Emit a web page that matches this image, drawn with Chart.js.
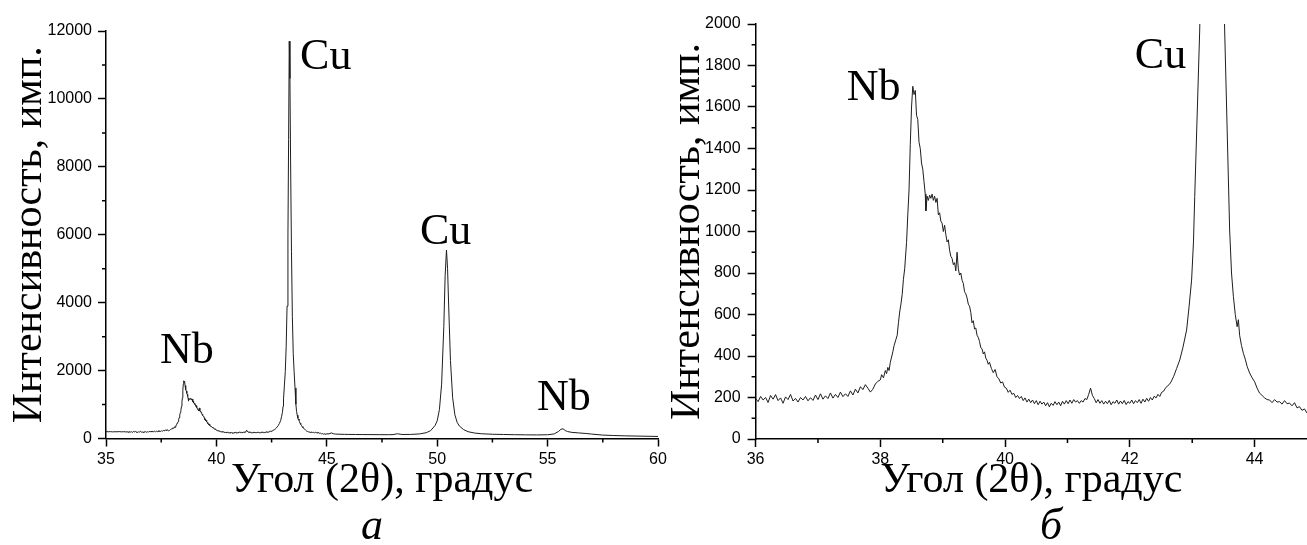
<!DOCTYPE html>
<html>
<head>
<meta charset="utf-8">
<script src="https://cdn.jsdelivr.net/npm/chart.js@4.4.1/dist/chart.umd.min.js"></script>
<style>
html, body { margin: 0; padding: 0; background: #fff; }
body { width: 1307px; height: 545px; position: relative; overflow: hidden; }
canvas { position: absolute; top: 0; }
#chartA { left: 0; }
#chartB { left: 660px; }
.tag { position: absolute; top: 503px; width: 60px; text-align: center;
       font-family: 'Liberation Serif', serif; font-style: italic; font-size: 44px; line-height: 1; }
#tagA { left: 342px; }
#tagB { left: 1021px; }
</style>
</head>
<body>
<canvas id="chartA" width="670" height="545"></canvas>
<canvas id="chartB" width="647" height="545"></canvas>
<div class="tag" id="tagA">а</div>
<div class="tag" id="tagB">б</div>
<script>
// XRD scan (angle in deg 2θ, counts)
const angA = [35.0, 35.1, 35.2, 35.3, 35.4, 35.5, 35.6, 35.7, 35.8, 35.9,
    36.00, 36.04, 36.08, 36.12, 36.16, 36.20, 36.24, 36.28, 36.32, 36.36,
    36.40, 36.44, 36.48, 36.52, 36.56, 36.60, 36.64, 36.68, 36.72, 36.76,
    36.80, 36.84, 36.88, 36.92, 36.96, 37.00, 37.04, 37.08, 37.12, 37.16,
    37.20, 37.24, 37.28, 37.32, 37.36, 37.40, 37.44, 37.48, 37.52, 37.56,
    37.60, 37.64, 37.68, 37.72, 37.76, 37.80, 37.84, 37.88, 37.92, 37.96];
const cntA = [205, 198, 202, 195, 200, 197, 203, 196, 201, 194,
    195, 180, 205, 188, 200, 176, 210, 192, 214, 185,
    198, 172, 203, 190, 215, 183, 196, 178, 200, 188,
    205, 184, 199, 186, 212, 190, 218, 192, 208, 195,
    222, 197, 215, 200, 226, 204, 218, 205, 232, 212,
    240, 222, 252, 238, 262, 245, 226, 240, 265, 278];

// Nb (110)
const angB = [38.00, 38.02, 38.05, 38.08, 38.10, 38.12, 38.14, 38.16, 38.18, 38.20,
    38.22, 38.25, 38.27, 38.29, 38.31, 38.33, 38.35, 38.37, 38.39, 38.42,
    38.44, 38.46, 38.48, 38.50, 38.52, 38.54, 38.56, 38.58, 38.60, 38.62,
    38.64, 38.66, 38.68, 38.70, 38.72, 38.73, 38.75, 38.77, 38.79, 38.81,
    38.83, 38.85, 38.87, 38.89, 38.91, 38.93, 38.95, 38.97, 38.99, 39.01,
    39.03, 39.05, 39.07, 39.09, 39.11, 39.13, 39.15, 39.17, 39.19, 39.21,
    39.23, 39.25, 39.27, 39.29, 39.31, 39.33, 39.35, 39.37, 39.39, 39.41,
    39.43, 39.45, 39.47, 39.49, 39.51, 39.53, 39.55, 39.57, 39.59, 39.61,
    39.63, 39.65, 39.67, 39.69, 39.71, 39.73, 39.75, 39.78, 39.81, 39.84,
    39.87, 39.90, 39.93, 39.96, 39.99];
const cntB = [285, 310, 295, 330, 315, 345, 330, 370, 395, 420,
    450, 480, 500, 560, 612, 650, 696, 770, 820, 947,
    1080, 1200, 1420, 1600, 1700, 1660, 1680, 1560, 1540, 1430,
    1400, 1330, 1300, 1240, 1180, 1100, 1170, 1150, 1175, 1160,
    1180, 1150, 1170, 1140, 1160, 1080, 1090, 1050, 1040, 1000,
    1030, 985, 950, 960, 910, 880, 870, 840, 850, 810,
    900, 820, 790, 800, 765, 750, 710, 700, 680, 650,
    640, 610, 560, 570, 530, 535, 500, 490, 470, 440,
    435, 410, 420, 390, 380, 360, 370, 340, 320, 335,
    300, 290, 270, 275, 250];

// valley between Nb and Cu
const angC = [40.02, 40.05, 40.08, 40.11, 40.14, 40.17, 40.20, 40.23, 40.26, 40.29,
    40.32, 40.35, 40.38, 40.41, 40.44, 40.47, 40.50, 40.53, 40.56, 40.59,
    40.62, 40.65, 40.68, 40.71, 40.74, 40.77, 40.80, 40.83, 40.86, 40.89,
    40.92, 40.95, 40.98, 41.01, 41.04, 41.07, 41.10, 41.13, 41.16, 41.19,
    41.22, 41.25, 41.28, 41.31, 41.34, 41.37, 41.40, 41.43, 41.46, 41.49,
    41.52, 41.55, 41.58, 41.61, 41.64, 41.67, 41.70, 41.73, 41.76, 41.79,
    41.82, 41.85, 41.88, 41.91, 41.94, 41.97, 42.00, 42.03, 42.06, 42.09,
    42.12, 42.15, 42.18, 42.21, 42.24, 42.27, 42.30, 42.33, 42.36, 42.39,
    42.42, 42.45, 42.48, 42.51, 42.54, 42.57, 42.60, 42.63, 42.66];
const cntC = [245, 225, 235, 215, 220, 200, 210, 195, 205, 185,
    198, 178, 192, 175, 188, 170, 185, 165, 182, 168,
    178, 160, 175, 155, 172, 162, 180, 165, 178, 160,
    182, 168, 185, 170, 188, 172, 190, 178, 185, 172,
    185, 178, 195, 190, 215, 245, 210, 195, 175, 190,
    172, 185, 168, 182, 170, 186, 165, 180, 172, 188,
    168, 183, 170, 186, 166, 180, 172, 188, 170, 185,
    175, 190, 172, 192, 178, 196, 182, 200, 188, 206,
    198, 215, 205, 225, 230, 245, 255, 262, 275];

// Cu (111)
const angD = [42.70, 42.75, 42.80, 42.85, 42.91, 42.95, 42.99, 43.02, 43.04, 43.08,
    43.12, 43.16, 43.20, 43.24, 43.27, 43.30, 43.33, 43.36, 43.40, 43.44,
    43.48, 43.52, 43.56, 43.60, 43.63, 43.66, 43.69, 43.72, 43.74, 43.76,
    43.79, 43.82, 43.85, 43.88, 43.92, 43.96, 44.00, 44.04, 44.08, 44.12,
    44.16, 44.20, 44.24, 44.28, 44.32, 44.36, 44.40, 44.44, 44.48, 44.52,
    44.56, 44.60, 44.64, 44.68, 44.72, 44.76, 44.80, 44.84, 44.88, 44.92,
    44.96];
const cntD = [300, 340, 381, 440, 525, 640, 766, 950, 1168, 1571,
    1971, 2700, 3900, 6000, 8800, 11700, 10600, 8200, 5500, 3600,
    2500, 1971, 1489, 1007, 800, 686, 600, 541, 575, 500,
    450, 413, 385, 350, 318, 295, 276, 245, 221, 210,
    198, 190, 188, 175, 190, 178, 180, 168, 185, 170,
    173, 160, 175, 150, 156, 138, 145, 125, 140, 130,
    125];

// Cu (200) and Nb (200)
const angE = [45.0, 45.1, 45.2, 45.3, 45.4, 45.6, 45.8, 46.0, 46.3, 46.6,
    47.0, 47.4, 47.8, 48.0, 48.2, 48.4, 48.8, 49.2, 49.5, 49.7,
    49.9, 50.0, 50.1, 50.2, 50.3, 50.36, 50.42, 50.47, 50.52, 50.6,
    50.7, 50.8, 50.9, 51.0, 51.2, 51.4, 51.7, 52.0, 52.5, 53.0,
    53.5, 54.0, 54.5, 55.0, 55.3, 55.5, 55.6, 55.7, 55.8, 55.9,
    56.1, 56.4, 56.7, 57.0, 57.5, 58.0, 58.5, 59.0, 59.5, 60.0];
const cntE = [140, 135, 165, 140, 130, 125, 122, 120, 118, 116,
    115, 113, 112, 115, 140, 118, 120, 135, 170, 230,
    380, 520, 850, 1600, 3300, 4800, 5550, 5000, 3900, 2300,
    1200, 700, 480, 370, 260, 200, 160, 140, 125, 118,
    112, 108, 105, 110, 135, 210, 270, 285, 235, 205,
    180, 165, 150, 130, 100, 88, 78, 72, 66, 60];

// ticks
const ticksAx = [35, 40, 45, 50, 55, 60];
const minorAx = [37.5, 42.5, 47.5, 52.5, 57.5];
const ticksAy = [0, 2000, 4000, 6000, 8000, 10000, 12000];
const minorAy = [1000, 3000, 5000, 7000, 9000, 11000];
const ticksBx = [36, 38, 40, 42, 44];
const minorBx = [37, 39, 41, 43];
const ticksBy = [0, 200, 400, 600, 800, 1000, 1200, 1400, 1600, 1800, 2000];
const minorBy = [100, 300, 500, 700, 900, 1100, 1300, 1500, 1700, 1900];

// peak names, placed in data units
const peaksA = [
    { text: 'Cu', x: 43.79, y: 10870 },
    { text: 'Nb', x: 37.45, y: 2212 },
    { text: 'Cu', x: 49.22, y: 5737 },
    { text: 'Nb', x: 54.52, y: 840 }
];
const peaksB = [
    { text: 'Nb', x: 37.46, y: 1634 },
    { text: 'Cu', x: 42.08, y: 1788 }
];

const angle = [].concat(angA, angB, angC, angD, angE);
const counts = [].concat(cntA, cntB, cntC, cntD, cntE);
const points = angle.map((a, i) => ({ x: a, y: counts[i] }));

// short minor ticks + peak labels
const extras = {
    id: 'extras',
    afterDraw(chart, args, opts) {
        const ctx = chart.ctx;
        const xs = chart.scales.x;
        const ys = chart.scales.y;
        ctx.save();
        ctx.strokeStyle = '#000';
        ctx.lineWidth = 1.5;
        ctx.beginPath();
        opts.minorX.forEach(v => {
            const p = xs.getPixelForValue(v);
            ctx.moveTo(p, xs.top);
            ctx.lineTo(p, xs.top + 4);
        });
        opts.minorY.forEach(v => {
            const p = ys.getPixelForValue(v);
            ctx.moveTo(ys.right, p);
            ctx.lineTo(ys.right - 4, p);
        });
        ctx.stroke();
        ctx.fillStyle = '#000';
        ctx.font = '44px "Liberation Serif", serif';
        ctx.textAlign = 'left';
        ctx.textBaseline = 'alphabetic';
        opts.peaks.forEach(pk => {
            ctx.fillText(pk.text, xs.getPixelForValue(pk.x), ys.getPixelForValue(pk.y));
        });
        ctx.restore();
    }
};

const tickFont = { family: 'Liberation Sans', size: 16 };
const titleFont = { family: 'Liberation Serif', size: 42 };

function makeChart(id, c) {
    return new Chart(document.getElementById(id), {
        type: 'line',
        data: {
            datasets: [{
                data: points,
                borderColor: '#1e1e1e',
                borderWidth: 1,
                pointRadius: 0,
                tension: 0,
                fill: false
            }]
        },
        plugins: [extras],
        options: {
            responsive: false,
            animation: false,
            events: [],
            layout: { padding: c.padding },
            plugins: {
                legend: { display: false },
                tooltip: { enabled: false },
                extras: { minorX: c.minorX, minorY: c.minorY, peaks: c.peaks }
            },
            scales: {
                x: {
                    type: 'linear',
                    min: c.xMin,
                    max: c.xMax,
                    afterBuildTicks: s => { s.ticks = c.ticksX.map(v => ({ value: v })); },
                    afterFit: s => { s.height = c.xHeight; },
                    ticks: { autoSkip: false, maxRotation: 0, padding: 3, color: '#000', font: tickFont,
                             callback: v => String(v) },
                    grid: { drawOnChartArea: false, drawTicks: true, tickLength: 8, tickWidth: 1.5, tickColor: '#000' },
                    border: { display: true, color: '#000', width: 1.5 },
                    title: { display: true, text: 'Угол (2θ), градус', color: '#000', font: titleFont, padding: 0 }
                },
                y: {
                    min: c.yMin,
                    max: c.yMax,
                    afterBuildTicks: s => { s.ticks = c.ticksY.map(v => ({ value: v })); },
                    afterFit: s => { s.width = c.yWidth; },
                    ticks: { autoSkip: false, padding: c.yPad, color: '#000', font: tickFont,
                             callback: v => String(v) },
                    grid: { drawOnChartArea: false, drawTicks: true, tickLength: 8, tickWidth: 1.5, tickColor: '#000' },
                    border: { display: true, color: '#000', width: 1.5 },
                    title: { display: true, text: 'Интенсивность, имп.', color: '#000', font: titleFont,
                             padding: { top: c.yTitlePad, bottom: 0 } }
                }
            }
        }
    });
}

makeChart('chartA', {
    xMin: 35, xMax: 60, yMin: 0, yMax: 12000,
    ticksX: ticksAx, minorX: minorAx, ticksY: ticksAy, minorY: minorAy,
    peaks: peaksA,
    padding: { left: 0, top: 31, right: 12, bottom: 38.8 },
    xHeight: 67.7, yWidth: 106, yPad: 6, yTitlePad: 5
});

makeChart('chartB', {
    xMin: 36, xMax: 44.84, yMin: 0, yMax: 2000,
    ticksX: ticksBx, minorX: minorBx, ticksY: ticksBy, minorY: minorBy,
    peaks: peaksB,
    padding: { left: 0, top: 24, right: 0, bottom: 38.8 },
    xHeight: 67.2, yWidth: 95.6, yPad: 7, yTitlePad: 3
});
</script>
</body>
</html>
